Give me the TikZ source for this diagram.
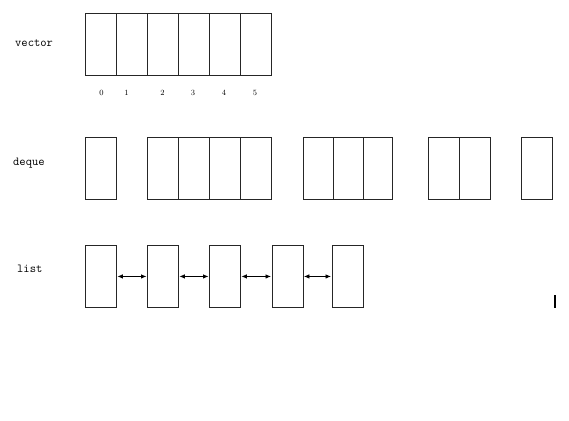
\documentclass[tikz,border=0pt]{standalone}
\usetikzlibrary{arrows.meta}
\begin{document}
\begin{tikzpicture}[x=1pt,y=-1pt,
  cell/.style={draw=black!85,line width=0.9pt,minimum width=31pt,minimum height=62pt,inner sep=0pt,anchor=north west},
  lbl/.style={font=\fontsize{12.2}{12}\ttfamily\selectfont,anchor=west,inner sep=0pt},
  idx/.style={font=\fontsize{8}{8}\selectfont,inner sep=0pt},
  link/.style={{Latex[length=5.5pt,width=4.5pt]}-{Latex[length=5.5pt,width=4.5pt]},line width=0.8pt,shorten <=0.5pt,shorten >=0.5pt}]
\useasboundingbox (0,0) rectangle (569,420);
% vector
\node[lbl] (vlabel) at (15,43) {vector};
\node[cell] (v0) at (85,13) {};
\node[cell] (v1) at (116,13) {};
\node[cell] (v2) at (147,13) {};
\node[cell] (v3) at (178,13) {};
\node[cell] (v4) at (209,13) {};
\node[cell] (v5) at (240,13) {};
\node[idx] (i0) at (101.5,92.5) {0};
\node[idx] (i1) at (126.5,92.5) {1};
\node[idx] (i2) at (162.5,92.5) {2};
\node[idx] (i3) at (193,92.5) {3};
\node[idx] (i4) at (224,92.5) {4};
\node[idx] (i5) at (255,92.5) {5};
% deque
\node[lbl] (dlabel) at (13,163) {deque};
\node[cell] (d0) at (85,137) {};
\node[cell] (d1) at (147,137) {};
\node[cell] (d2) at (178,137) {};
\node[cell] (d3) at (209,137) {};
\node[cell] (d4) at (240,137) {};
\node[cell,minimum width=30pt] (d5) at (302.5,137) {};
\node[cell,minimum width=29.5pt] (d6) at (333,137) {};
\node[cell,minimum width=29.5pt] (d7) at (362.5,137) {};
\node[cell,minimum width=31pt] (d8) at (428,137) {};
\node[cell,minimum width=31pt] (d9) at (459,137) {};
\node[cell,minimum width=31pt] (d10) at (521,137) {};
% list
\node[lbl] (llabel) at (17,269) {list};
\node[cell] (l0) at (85,245) {};
\node[cell] (l1) at (147,245) {};
\node[cell] (l2) at (209,245) {};
\node[cell] (l3) at (271.5,245) {};
\node[cell] (l4) at (331.5,245) {};
\draw[link] (l0.east) -- (l1.west);
\draw[link] (l1.east) -- (l2.west);
\draw[link] (l2.east) -- (l3.west);
\draw[link] (l3.east) -- (l4.west);
% small bar
\node[fill=black,inner sep=0pt,minimum width=2pt,minimum height=13pt] (bar) at (555,301.5) {};
\end{tikzpicture}
\end{document}
